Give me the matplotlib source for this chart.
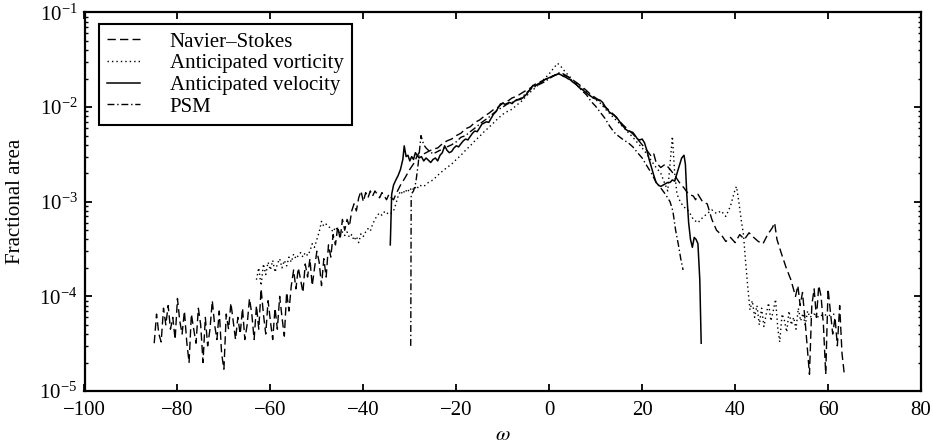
import matplotlib
matplotlib.use('Agg')
import matplotlib.pyplot as plt

# Navier-Stokes (dashed)
ns_w = [-85, -84.5, -84, -83.5, -83, -82.5, -82, -81.5, -81, -80.5,
        -80, -79.5, -79, -78.5, -78, -77.5, -77, -76.5, -76, -75.5,
        -75, -74.5, -74, -73.5, -73, -72.5, -72, -71.5, -71, -70.5,
        -70, -69.5, -69, -68.5, -68, -67.5, -67, -66.5, -66, -65.5,
        -65, -64.5, -64, -63.5, -63, -62.5, -62, -61.5, -61, -60.5,
        -60, -59.5, -59, -58.5, -58, -57.5, -57, -56.5, -56, -55.5, -55,
        -54.5, -54, -53.5, -53, -52.5, -52, -51.5, -51, -50.5, -50,
        -49.5, -49, -48.5, -48, -47.5, -47, -46.5, -46, -45.5, -45,
        -44.5, -44, -43.5, -43, -42.5, -42, -41.5, -41, -40.5, -40,
        -39.5, -39, -38.5, -38, -37.5, -37, -36.5, -36, -35.5, -35,
        -34.5, -34, -33.5, -33, -32, -31, -30, -29, -28.5, -28,
        -27, -26, -25, -24, -23, -22, -21, -20, -19, -18,
        -17, -16, -15, -14, -13, -12, -11, -10, -9, -8,
        -7, -6, -5, -4, -3, -2, -1, 0, 1, 2,
        3, 4, 5, 6, 7, 8, 9, 10, 11, 12,
        13, 14, 15, 16, 17, 18, 19, 20, 21, 22,
        22.5, 23, 24, 25, 26, 27, 28, 29, 30, 31,
        31.5, 32, 33, 34, 35, 36, 37, 38, 39, 40,
        41, 42, 43, 44, 45, 46, 47, 48, 48.5, 49,
        50, 51, 52, 53, 53.5, 54, 54.5, 55, 55.5, 56,
        56.5, 57, 57.5, 58, 58.5, 59, 59.5, 60, 60.5, 61,
        61.5, 62, 62.5, 63, 63.5]
ns_y = [3.2e-5, 6.5e-5, 4.0e-5, 3.3e-5, 7.5e-5, 5.0e-5, 8.0e-5, 4.5e-5, 6.0e-5, 3.5e-5,
        9.5e-5, 5.5e-5, 4.0e-5, 7.0e-5, 3.3e-5, 2.0e-5, 6.5e-5, 4.5e-5, 3.2e-5, 7.5e-5,
        5.0e-5, 2.0e-5, 6.0e-5, 3.0e-5, 4.5e-5, 9.0e-5, 5.0e-5, 3.5e-5, 7.0e-5, 2.5e-5,
        1.7e-5, 6.5e-5, 4.5e-5, 8.5e-5, 5.5e-5, 3.5e-5, 6.0e-5, 4.0e-5, 7.5e-5, 3.5e-5,
        5.0e-5, 9.5e-5, 6.5e-5, 3.5e-5, 8.0e-5, 4.5e-5, 1.2e-4, 6.5e-5, 4.0e-5, 9.0e-5,
        5.5e-5, 3.5e-5, 7.5e-5, 4.5e-5, 1.0e-4, 6.0e-5, 3.8e-5, 1.1e-4, 7.0e-5, 1.3e-4, 1.9e-4,
        1.2e-4, 2.0e-4, 1.5e-4, 1.1e-4, 2.2e-4, 1.6e-4, 2.5e-4, 1.3e-4, 2.0e-4, 3.0e-4,
        2.3e-4, 1.3e-4, 2.5e-4, 1.6e-4, 3.5e-4, 2.6e-4, 4.5e-4, 3.5e-4, 5.5e-4, 4.0e-4,
        6.5e-4, 5.0e-4, 6.5e-4, 5.5e-4, 8.0e-4, 9.5e-4, 8.0e-4, 1.1e-3, 1.3e-3, 1.0e-3,
        1.25e-3, 1.1e-3, 1.3e-3, 1.15e-3, 1.3e-3, 1.2e-3, 1.1e-3, 1.25e-3, 1.15e-3, 1.05e-3,
        1.2e-3, 1.1e-3, 1.05e-3, 1.2e-3, 1.5e-3, 1.8e-3, 2.2e-3, 2.6e-3, 3.0e-3, 3.3e-3,
        3.2e-3, 3.4e-3, 3.6e-3, 3.7e-3, 4.1e-3, 4.4e-3, 4.6e-3, 5.0e-3, 5.3e-3, 5.9e-3,
        6.2e-3, 6.9e-3, 7.3e-3, 8.0e-3, 8.6e-3, 9.4e-3, 1.0e-2, 1.1e-2, 1.15e-2, 1.25e-2,
        1.3e-2, 1.4e-2, 1.5e-2, 1.6e-2, 1.75e-2, 1.85e-2, 1.95e-2, 2.05e-2, 2.15e-2, 2.25e-2,
        2.2e-2, 2.1e-2, 1.95e-2, 1.8e-2, 1.65e-2, 1.5e-2, 1.35e-2, 1.25e-2, 1.15e-2, 1.0e-2,
        9.2e-3, 8.2e-3, 7.2e-3, 6.4e-3, 5.8e-3, 5.2e-3, 4.6e-3, 4.0e-3, 3.5e-3, 3.0e-3,
        3.2e-3, 2.6e-3, 2.3e-3, 2.5e-3, 2.2e-3, 1.9e-3, 1.6e-3, 1.4e-3, 1.2e-3, 1.15e-3,
        1.05e-3, 1.2e-3, 1.0e-3, 9.5e-4, 6.5e-4, 5.0e-4, 4.5e-4, 3.8e-4, 4.2e-4, 3.7e-4,
        4.5e-4, 4.0e-4, 4.7e-4, 4.2e-4, 3.8e-4, 3.6e-4, 4.5e-4, 5.3e-4, 6.0e-4, 4.0e-4,
        2.8e-4, 2.0e-4, 1.5e-4, 1.0e-4, 1.3e-4, 8.0e-5, 1.1e-4, 6.0e-5, 3.0e-5, 1.5e-5,
        8.0e-5, 1.2e-4, 6.0e-5, 1.3e-4, 1.0e-4, 5.0e-5, 1.5e-5, 1.2e-4, 7.0e-5, 4.0e-5,
        6.0e-5, 3.0e-5, 8.0e-5, 2.5e-5, 1.5e-5]

# Anticipated vorticity (dotted)
vort_w = [-63, -62.5, -62, -61.5, -61, -60.5, -60, -59.5, -59, -58.5,
          -58, -57.5, -57, -56.5, -56, -55.5, -55, -54.5, -54, -53.5,
          -53, -52.5, -52, -51.5, -51, -50.5, -50, -49.5, -49, -48.5,
          -48, -47.5, -47, -46.5, -46, -45.5, -45, -44.5, -44, -43.5,
          -43, -42.5, -42, -41.5, -41, -40.5, -40, -39.5, -39, -38.5,
          -38, -37.5, -37, -36.5, -36, -35.5, -35, -34.5, -34, -33.5,
          -33, -32.5, -32, -31.5, -31, -30.5, -30, -29.5, -29, -28.5,
          -28, -27, -26, -25, -24, -23, -22, -21, -20, -19,
          -18, -17, -16, -15, -14, -13, -12, -11, -10, -9,
          -8, -7, -6, -5, -4, -3, -2, -1, 0, 1,
          1.8, 2.5, 3, 4, 5, 6, 7, 8, 9, 10,
          11, 12, 13, 14, 15, 16, 17, 18, 19, 20,
          21, 22, 23, 24, 25, 25.5, 26, 26.5, 27, 27.5,
          28, 28.5, 29, 30, 31, 32, 33, 34, 35, 36,
          37, 38, 39, 39.5, 40, 40.3, 40.8, 41.3, 41.8, 42.2,
          42.7, 43.2, 43.7, 44.2, 44.7, 45.2, 45.7, 46.2, 46.7, 47.2,
          47.7, 48.2, 48.7, 49.2, 49.6, 50.1, 50.6, 51.1, 51.6, 52.1,
          52.6, 53.1, 53.6, 54.1, 54.6, 55.1, 55.6, 56.1, 57, 58,
          59, 60, 61, 61.8]
vort_y = [1.5e-4, 2.0e-4, 1.3e-4, 2.2e-4, 1.7e-4, 2.3e-4, 1.9e-4, 2.4e-4, 1.8e-4, 2.2e-4,
          2.5e-4, 2.0e-4, 2.4e-4, 2.1e-4, 2.6e-4, 2.3e-4, 2.8e-4, 2.5e-4, 2.7e-4, 2.9e-4,
          2.6e-4, 2.9e-4, 2.7e-4, 3.0e-4, 3.6e-4, 3.3e-4, 4.0e-4, 4.8e-4, 6.2e-4, 5.5e-4,
          5.8e-4, 5.5e-4, 5.2e-4, 4.8e-4, 5.4e-4, 5.0e-4, 4.6e-4, 4.8e-4, 4.4e-4, 4.8e-4,
          4.2e-4, 4.5e-4, 3.9e-4, 4.3e-4, 3.7e-4, 4.6e-4, 4.3e-4, 4.8e-4, 5.2e-4, 4.9e-4,
          5.8e-4, 6.5e-4, 7.2e-4, 7.6e-4, 7.2e-4, 7.8e-4, 7.4e-4, 7.8e-4, 7.6e-4, 8.0e-4,
          9.5e-4, 1.15e-3, 1.3e-3, 1.2e-3, 1.35e-3, 1.25e-3, 1.4e-3, 1.3e-3, 1.45e-3, 1.35e-3,
          1.5e-3, 1.45e-3, 1.6e-3, 1.7e-3, 1.9e-3, 2.1e-3, 2.3e-3, 2.5e-3, 2.8e-3, 3.1e-3,
          3.5e-3, 3.9e-3, 4.4e-3, 4.9e-3, 5.5e-3, 6.1e-3, 6.8e-3, 7.6e-3, 8.4e-3, 9.0e-3,
          9.5e-3, 1.05e-2, 1.15e-2, 1.3e-2, 1.45e-2, 1.6e-2, 1.8e-2, 2.0e-2, 2.25e-2, 2.6e-2,
          2.9e-2, 2.7e-2, 2.5e-2, 2.2e-2, 1.95e-2, 1.75e-2, 1.6e-2, 1.45e-2, 1.3e-2, 1.2e-2,
          1.1e-2, 9.6e-3, 8.6e-3, 7.6e-3, 6.8e-3, 6.1e-3, 5.4e-3, 4.8e-3, 4.2e-3, 3.7e-3,
          3.2e-3, 2.7e-3, 2.3e-3, 2.0e-3, 1.5e-3, 1.3e-3, 2.5e-3, 4.9e-3, 2.0e-3, 1.2e-3,
          1.05e-3, 9.5e-4, 8.8e-4, 8.0e-4, 6.5e-4, 6.0e-4, 6.8e-4, 7.5e-4, 8.2e-4, 7.5e-4,
          8.0e-4, 7.0e-4, 9.0e-4, 1.1e-3, 1.35e-3, 1.45e-3, 1.0e-3, 6.5e-4, 4.5e-4, 2.5e-4,
          1.3e-4, 7.2e-5, 9.0e-5, 6.0e-5, 8.0e-5, 5.0e-5, 7.5e-5, 4.8e-5, 6.5e-5, 8.5e-5,
          5.5e-5, 7.0e-5, 9.3e-5, 4.5e-5, 3.3e-5, 6.5e-5, 5.6e-5, 4.2e-5, 7.0e-5, 5.0e-5,
          6.0e-5, 4.5e-5, 7.5e-5, 5.5e-5, 6.6e-5, 5.0e-5, 7.0e-5, 6.0e-5, 6.5e-5, 6.0e-5,
          6.5e-5, 6.2e-5, 6.5e-5, 6.4e-5]

# Anticipated velocity (solid)
vel_w = [-34.2, -33.9, -33.5, -33, -32.5, -32, -31.5, -31.2, -30.8, -30.4,
         -30, -29.6, -29.2, -28.8, -28.4, -28, -27.5, -27, -26.5, -26,
         -25.5, -25, -24.5, -24, -23.5, -23, -22.5, -22, -21.5, -21,
         -20.5, -20, -19.5, -19, -18.5, -18, -17.5, -17, -16.5, -16,
         -15.5, -15, -14.5, -14, -13.5, -13, -12.5, -12, -11.5, -11,
         -10.5, -10, -9.5, -9, -8.5, -8, -7.5, -7, -6.5, -6,
         -5.5, -5, -4.5, -4, -3.5, -3, -2.5, -2, -1.5, -1,
         -0.5, 0, 0.5, 1, 1.5, 2, 2.5, 3, 3.5, 4,
         4.5, 5, 5.5, 6, 6.5, 7, 7.5, 8, 8.5, 9,
         9.5, 10, 10.5, 11, 11.5, 12, 12.5, 13, 13.5, 14,
         14.5, 15, 15.5, 16, 16.5, 17, 17.5, 18, 18.5, 19,
         19.5, 20, 20.5, 21, 21.5, 22, 22.5, 23, 23.5, 24,
         24.5, 25, 25.5, 26, 26.5, 27, 27.5, 28, 28.5, 29,
         29.3, 29.6, 30, 30.4, 30.8, 31.2, 31.6, 32, 32.4, 32.7]
vel_y = [3.5e-4, 1.2e-3, 1.5e-3, 1.7e-3, 1.9e-3, 2.2e-3, 2.8e-3, 3.9e-3, 3.0e-3, 3.1e-3,
         2.7e-3, 3.0e-3, 2.8e-3, 3.3e-3, 3.1e-3, 2.9e-3, 3.0e-3, 2.7e-3, 2.9e-3, 2.75e-3,
         2.6e-3, 2.8e-3, 2.9e-3, 2.7e-3, 3.1e-3, 3.3e-3, 3.9e-3, 3.5e-3, 3.3e-3, 3.4e-3,
         3.7e-3, 3.9e-3, 3.8e-3, 4.1e-3, 4.4e-3, 4.6e-3, 4.5e-3, 4.9e-3, 5.3e-3, 5.6e-3,
         5.5e-3, 6.0e-3, 6.6e-3, 6.8e-3, 7.0e-3, 6.9e-3, 7.6e-3, 8.4e-3, 8.9e-3, 9.8e-3,
         1.08e-2, 1.1e-2, 1.07e-2, 1.1e-2, 1.12e-2, 1.09e-2, 1.15e-2, 1.2e-2, 1.2e-2, 1.22e-2,
         1.28e-2, 1.35e-2, 1.45e-2, 1.55e-2, 1.7e-2, 1.68e-2, 1.75e-2, 1.8e-2, 1.85e-2, 1.95e-2,
         2.0e-2, 2.05e-2, 2.1e-2, 2.15e-2, 2.2e-2, 2.25e-2, 2.2e-2, 2.12e-2, 2.08e-2, 2.0e-2,
         1.95e-2, 1.85e-2, 1.78e-2, 1.7e-2, 1.6e-2, 1.55e-2, 1.48e-2, 1.42e-2, 1.35e-2, 1.3e-2,
         1.25e-2, 1.22e-2, 1.2e-2, 1.18e-2, 1.12e-2, 1.02e-2, 9.5e-3, 8.8e-3, 8.5e-3, 8.2e-3,
         7.8e-3, 7.2e-3, 6.6e-3, 6.2e-3, 5.8e-3, 5.6e-3, 5.5e-3, 5.4e-3, 5.0e-3, 4.6e-3,
         4.5e-3, 4.6e-3, 4.2e-3, 3.5e-3, 2.8e-3, 2.3e-3, 1.9e-3, 1.6e-3, 1.5e-3, 1.45e-3,
         1.5e-3, 1.55e-3, 1.6e-3, 1.6e-3, 1.7e-3, 1.65e-3, 2.0e-3, 2.4e-3, 2.9e-3, 3.1e-3,
         2.5e-3, 1.2e-3, 6.0e-4, 4.0e-4, 3.3e-4, 4.2e-4, 4.0e-4, 3.6e-4, 1.5e-4, 3.2e-5]

# PSM (dash-dot)
psm_w = [-29.8, -29.7, -29.2, -28.7, -28.2, -27.6, -27, -26.5, -26, -25,
         -24, -23, -22, -21, -20, -19, -18, -17, -16, -15,
         -14, -13, -12, -11, -10, -9, -8, -7, -6, -5,
         -4, -3, -2, -1, 0, 1, 2, 3, 4, 5,
         6, 7, 8, 9, 10, 11, 12, 13, 14, 15,
         16, 17, 18, 19, 20, 21, 22, 23, 24, 25,
         26, 26.6, 27.2, 27.8, 28.3, 28.8]
psm_y = [3.0e-5, 1.2e-3, 1.3e-3, 1.6e-3, 2.5e-3, 5.0e-3, 4.0e-3, 3.7e-3, 3.5e-3, 3.2e-3,
         3.4e-3, 3.6e-3, 3.8e-3, 4.0e-3, 4.3e-3, 4.8e-3, 5.0e-3, 5.5e-3, 6.0e-3, 6.6e-3,
         7.2e-3, 7.8e-3, 8.6e-3, 9.4e-3, 1.0e-2, 1.08e-2, 1.12e-2, 1.18e-2, 1.25e-2, 1.4e-2,
         1.55e-2, 1.65e-2, 1.75e-2, 1.85e-2, 2.0e-2, 2.15e-2, 2.3e-2, 2.25e-2, 2.1e-2, 1.9e-2,
         1.7e-2, 1.5e-2, 1.35e-2, 1.15e-2, 1.02e-2, 8.8e-3, 7.6e-3, 6.3e-3, 5.4e-3, 4.9e-3,
         4.5e-3, 4.2e-3, 3.8e-3, 3.3e-3, 2.9e-3, 2.4e-3, 2.0e-3, 1.6e-3, 1.4e-3, 1.2e-3,
         1.0e-3, 8.0e-4, 5.0e-4, 3.5e-4, 2.5e-4, 1.9e-4]

x_ticks = [-100, -80, -60, -40, -20, 0, 20, 40, 60, 80]

plt.rcParams['font.family'] = ['Liberation Serif', 'DejaVu Serif']
plt.rcParams['mathtext.fontset'] = 'stix'
plt.rcParams['font.size'] = 15

fig = plt.figure(figsize=(9.33, 4.44), dpi=100)
ax = fig.add_axes([84.5 / 933, 1 - 391 / 444, 836.5 / 933, 378.5 / 444])

ax.plot(ns_w, ns_y, color='black', lw=1.0, ls=(0, (6, 3)), label='Navier–Stokes')
ax.plot(vort_w, vort_y, color='black', lw=1.0, ls=(0, (1, 2.2)), label='Anticipated vorticity')
ax.plot(vel_w, vel_y, color='black', lw=1.1, ls='-', label='Anticipated velocity')
ax.plot(psm_w, psm_y, color='black', lw=1.0, ls=(0, (5, 2, 1, 2)), label='PSM')

ax.set_yscale('log')
ax.set_xlim(-100, 80)
ax.set_ylim(1e-5, 1e-1)
ax.set_xticks(x_ticks)

for sp in ax.spines.values():
    sp.set_linewidth(1.6)
ax.tick_params(which='both', direction='in', top=True, right=True, labelsize=15)
ax.tick_params(which='major', length=5, width=1.3)
ax.tick_params(which='minor', length=2.5, width=1.0)
ax.tick_params(axis='x', pad=7)
ax.tick_params(axis='y', pad=5)

ax.set_ylabel('Fractional area', fontsize=15)
ax.yaxis.set_label_coords(-0.071, 0.5)
ax.set_xlabel(r'$\omega$', fontsize=15)
ax.xaxis.set_label_coords(0.5, -0.093)

leg = ax.legend(loc='upper left', bbox_to_anchor=(0.017, 0.97), borderaxespad=0,
                fancybox=False, framealpha=1, edgecolor='black', fontsize=15,
                handlelength=1.6, handletextpad=1.4, labelspacing=0.1, borderpad=0.4)
leg.get_frame().set_linewidth(1.5)

fig.savefig('out.png', dpi=100)
